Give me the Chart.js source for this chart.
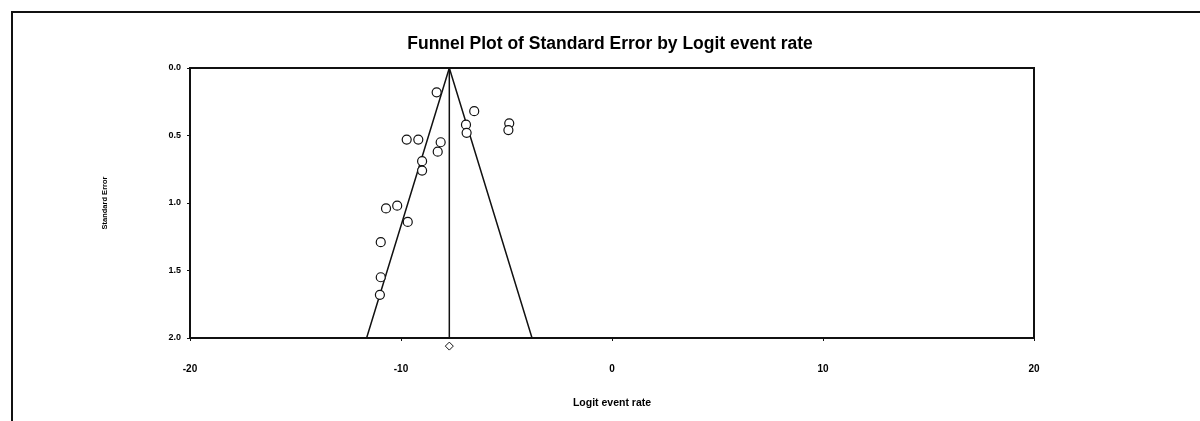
<!DOCTYPE html>
<html>
<head>
<meta charset="utf-8">
<script src="https://cdn.jsdelivr.net/npm/chart.js@4/dist/chart.umd.min.js"></script>
<style>
  html, body { margin: 0; padding: 0; background: #fff; }
  #wrap { position: relative; width: 1200px; height: 421px; overflow: hidden; }
  #frame { position: absolute; left: 11px; top: 11px; width: 1300px; height: 500px;
           border-top: 2px solid #111; border-left: 2px solid #111; }
  canvas { position: absolute; left: 0; top: 0; }
</style>
</head>
<body>
<div id="wrap">
  <div id="frame"></div>
  <canvas id="c" width="1200" height="421"></canvas>
</div>
<script>
// Study estimates
const logitRate = [-8.31, -6.53, -6.92, -6.89, -4.87, -4.91, -9.73, -9.18, -8.12, -8.26, -9.00, -9.00, -10.71, -10.18, -9.68, -10.96, -10.96, -11.00];
const stdError  = [0.18, 0.32, 0.42, 0.48, 0.41, 0.46, 0.53, 0.53, 0.55, 0.62, 0.69, 0.76, 1.04, 1.02, 1.14, 1.29, 1.55, 1.68];
// Funnel outline and pooled estimate
const funnelX = [-11.63, -7.71, -3.79];
const funnelY = [2.0, 0.0, 2.0];
const pooledX = [-7.71, -7.71];
const pooledY = [0.0, 2.0];
const summaryX = [-7.71];
const summaryY = [2.06];
// Axis ticks
const xTicks = [-20, -10, 0, 10, 20];
const yTicks = [0.0, 0.5, 1.0, 1.5, 2.0];

const FONT = "'Liberation Sans Narrow', 'Liberation Sans', Arial, sans-serif";
const zip = (xs, ys) => xs.map((x, i) => ({ x: x, y: ys[i] }));

const frameBox = {
  id: 'frameBox',
  afterDatasetsDraw(chart) {
    const a = chart.chartArea, ctx = chart.ctx;
    ctx.save();
    ctx.strokeStyle = '#111';
    ctx.lineWidth = 2;
    ctx.strokeRect(a.left, a.top, a.right - a.left, a.bottom - a.top);
    ctx.restore();
    // summary marker sits just below the plot frame: draw it without area test
    const meta = chart.getDatasetMeta(3);
    meta.data.forEach(p => p.draw(ctx));
  }
};

new Chart(document.getElementById('c'), {
  type: 'scatter',
  data: {
    datasets: [
      { label: 'Funnel', type: 'line', data: zip(funnelX, funnelY), borderColor: '#111', borderWidth: 1.5,
        pointRadius: 0, fill: false, tension: 0, order: 3 },
      { label: 'Pooled', type: 'line', data: zip(pooledX, pooledY), borderColor: '#111', borderWidth: 1.5,
        pointRadius: 0, fill: false, order: 2 },
      { label: 'Studies', data: zip(logitRate, stdError), pointStyle: 'circle', pointRadius: 4.5,
        borderColor: '#111', borderWidth: 1.2, backgroundColor: '#fff', order: 1 },
      { label: 'Summary', data: zip(summaryX, summaryY), pointStyle: 'rectRot', pointRadius: 4,
        borderColor: '#111', borderWidth: 1, backgroundColor: '#fff', clip: false, order: 0 }
    ]
  },
  options: {
    responsive: false,
    animation: false,
    events: [],
    layout: { padding: { left: 20, right: 0, top: 34, bottom: 10 } },
    plugins: {
      legend: { display: false },
      tooltip: { enabled: false },
      title: {
        display: true,
        text: 'Funnel Plot of Standard Error by Logit event rate',
        color: '#000',
        font: { family: FONT, size: 17.5, weight: 'bold', lineHeight: 1.2 },
        padding: { top: 0, bottom: 13 }
      }
    },
    scales: {
      x: {
        type: 'linear', min: -20, max: 20,
        afterBuildTicks: (s) => { s.ticks = xTicks.map(v => ({ value: v })); },
        afterFit: (s) => { s.height = 73; },
        grid: { display: true, drawOnChartArea: false, drawTicks: true, tickLength: 3, color: '#111' },
        border: { display: false },
        ticks: { color: '#000', padding: 22, font: { family: FONT, size: 10, weight: 'bold' },
                 callback: (v) => String(v) },
        title: { display: true, text: 'Logit event rate', color: '#000',
                 font: { family: FONT, size: 10.5, weight: 'bold' }, padding: { top: 0, bottom: 2 } }
      },
      y: {
        type: 'linear', reverse: true, min: 0, max: 2,
        afterBuildTicks: (s) => { s.ticks = yTicks.map(v => ({ value: v })); },
        afterFit: (s) => { s.width = 170; },
        grid: { display: true, drawOnChartArea: false, drawTicks: true, tickLength: 3, color: '#111' },
        border: { display: false },
        ticks: { color: '#000', padding: 6, font: { family: FONT, size: 9, weight: 'bold' },
                 callback: (v) => Number(v).toFixed(1) },
        title: { display: true, text: 'Standard Error', color: '#000',
                 font: { family: FONT, size: 7.5, weight: 'bold' }, padding: { top: 80, bottom: 0 } }
      },
      yRight: {
        type: 'linear', position: 'right', min: 0, max: 2,
        afterFit: (s) => { s.width = 166; },
        grid: { display: false },
        border: { display: false },
        ticks: { display: false }
      }
    }
  },
  plugins: [frameBox]
});
</script>
</body>
</html>
